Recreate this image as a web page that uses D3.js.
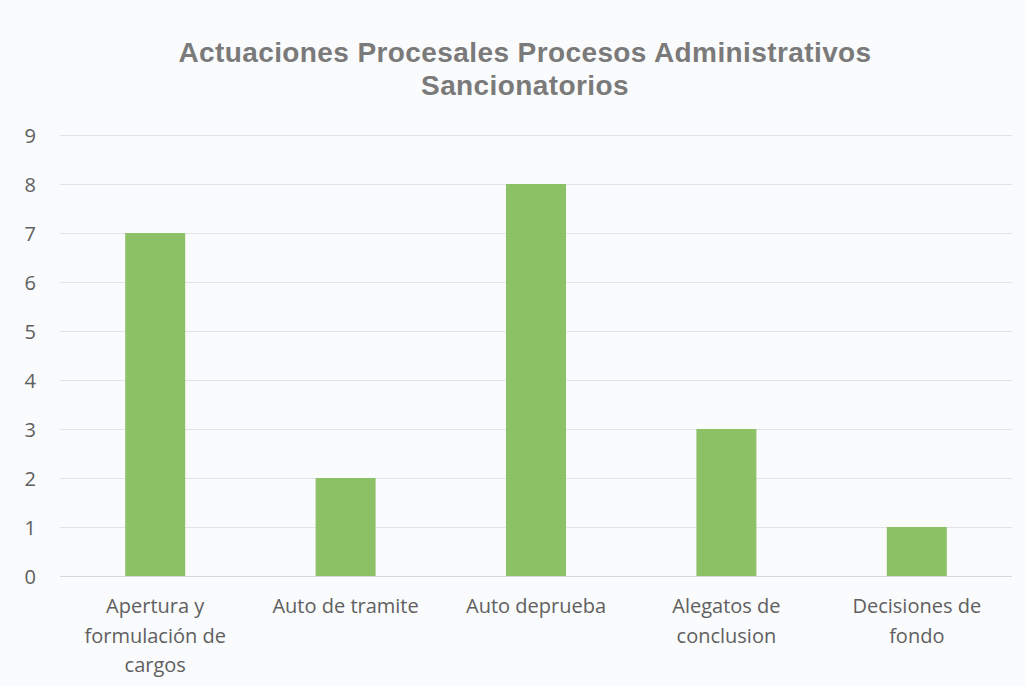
<html>
<meta charset="utf-8">
<head>
	<title>Actuaciones</title>
	<script src="https://d3js.org/d3.v7.min.js"></script>
</head>
<body style="margin:0;background:#fafbfc">
<svg id="chart" width="1026" height="687"></svg>

<script>
	var categories = [
		["Apertura y", "formulación de", "cargos"],
		["Auto de tramite"],
		["Auto deprueba"],
		["Alegatos de", "conclusion"],
		["Decisiones de", "fondo"]
	];
	var values = [7, 2, 8, 3, 1];
	var yTicks = [0, 1, 2, 3, 4, 5, 6, 7, 8, 9];
	var titleLines = ["Actuaciones Procesales Procesos Administrativos", "Sancionatorios"];

	var svg = d3.select("#chart");

	var x = d3.scaleBand()
		.domain(d3.range(values.length))
		.range([60, 1012])
		.paddingInner(0.685)
		.paddingOuter(0.3425);

	var y = d3.scaleLinear()
		.domain([0, 9])
		.range([576, 135]);

	// title
	svg.append("text")
		.attr("x", 525)
		.attr("y", 62)
		.attr("text-anchor", "middle")
		.style("font-family", "'Liberation Sans', Arial, sans-serif")
		.style("font-weight", "bold")
		.style("font-size", "28px")
		.style("letter-spacing", "0.4px")
		.style("fill", "#7a7a7a")
		.selectAll("tspan")
		.data(titleLines)
		.enter()
		.append("tspan")
		.attr("x", 525)
		.attr("dy", function (d, i) { return i === 0 ? 0 : 33; })
		.text(function (d) { return d; });

	// gridlines
	svg.append("g")
		.selectAll("line")
		.data(yTicks)
		.enter()
		.append("line")
		.attr("x1", 60)
		.attr("x2", 1012)
		.attr("y1", function (d) { return y(d) + 0.5; })
		.attr("y2", function (d) { return y(d) + 0.5; })
		.style("stroke", function (d) { return d === 0 ? "#d6d6d6" : "#e2e4e6"; })
		.style("stroke-width", 1);

	// y axis
	var yAxis = d3.axisLeft(y)
		.tickValues(yTicks)
		.tickSize(0)
		.tickPadding(0);
	var yg = svg.append("g")
		.attr("transform", "translate(36,0)")
		.call(yAxis);
	yg.select(".domain").remove();
	yg.selectAll("text")
		.attr("dy", "0.36em")
		.style("font-family", "'Open Sans', 'Noto Sans', sans-serif")
		.style("font-size", "20px")
		.style("fill", "#606060");

	// bars
	svg.append("g")
		.selectAll("rect")
		.data(values)
		.enter()
		.append("rect")
		.attr("x", function (d, i) { return x(i); })
		.attr("y", function (d) { return y(d); })
		.attr("width", x.bandwidth())
		.attr("height", function (d) { return y(0) - y(d); })
		.style("fill", "#8dc165");

	// x labels
	var labels = svg.append("g")
		.selectAll("text")
		.data(categories)
		.enter()
		.append("text")
		.attr("text-anchor", "middle")
		.attr("y", 613)
		.style("font-family", "'Open Sans', 'Noto Sans', sans-serif")
		.style("font-size", "20px")
		.style("fill", "#606060");
	labels.each(function (d, i) {
		var cx = x(i) + x.bandwidth() / 2;
		d3.select(this).selectAll("tspan")
			.data(d)
			.enter()
			.append("tspan")
			.attr("x", cx)
			.attr("dy", function (t, j) { return j === 0 ? 0 : 29.5; })
			.text(function (t) { return t; });
	});
</script>
</body>
</html>
